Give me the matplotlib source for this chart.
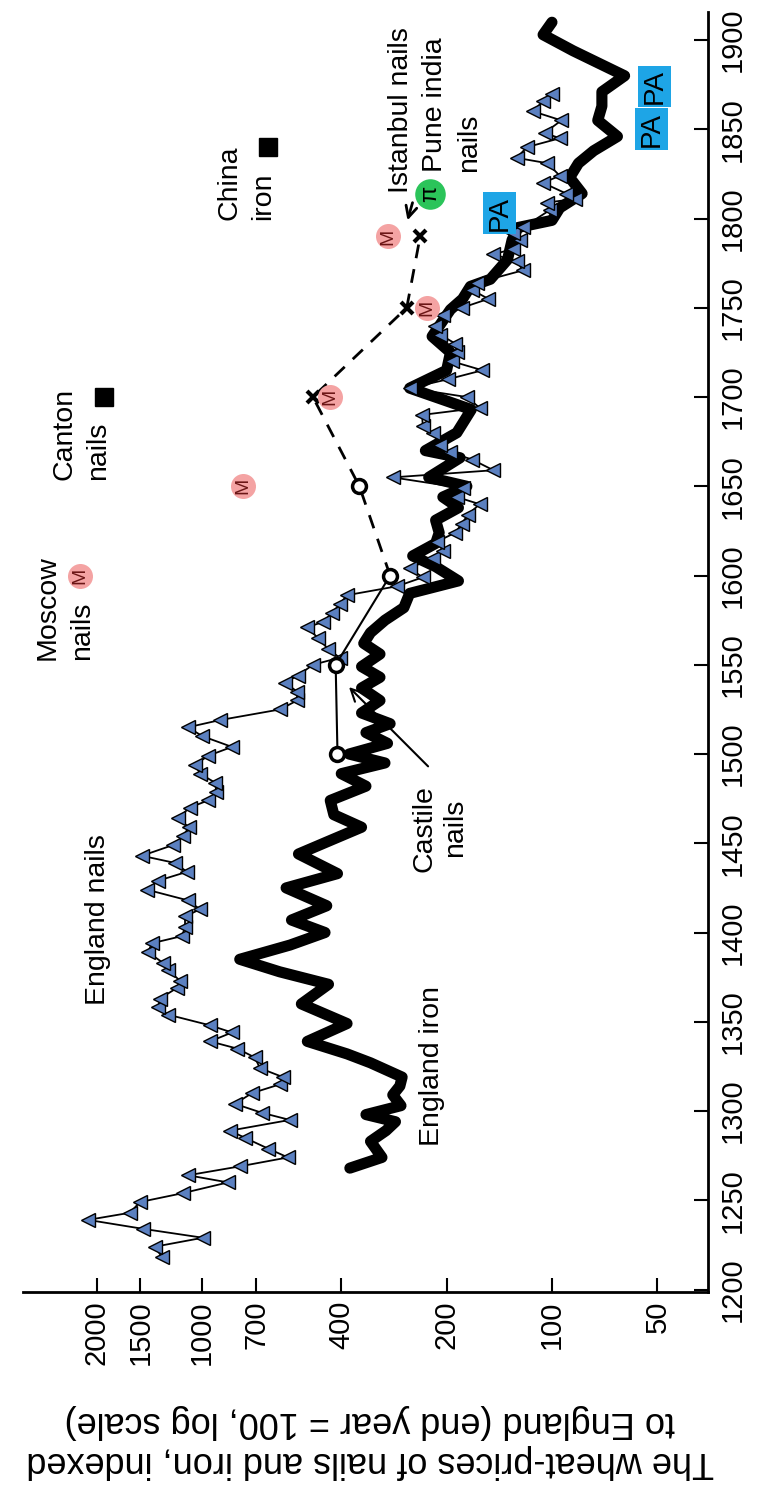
import matplotlib
matplotlib.use('Agg')
import matplotlib.pyplot as plt
from matplotlib.ticker import FixedLocator, NullLocator

plt.rcParams['font.family'] = ['Liberation Sans', 'DejaVu Sans']

# England nails, wheat-price index
nails_years = [1218, 1224, 1229, 1234, 1239, 1243, 1249, 1254, 1260, 1264, 1269, 1274,
               1279, 1285, 1289, 1295, 1299, 1304, 1310, 1315, 1319, 1324, 1330, 1335,
               1339, 1344, 1348, 1354, 1358, 1363, 1369, 1373, 1379, 1383, 1389, 1394,
               1398, 1403, 1409, 1413, 1418, 1424, 1429, 1434, 1439, 1443, 1449, 1454,
               1459, 1464, 1470, 1474, 1479, 1484, 1489, 1494, 1499, 1504, 1510, 1515,
               1519, 1525, 1530, 1535, 1540, 1544, 1550, 1554, 1559, 1565, 1571, 1574,
               1579, 1584, 1589, 1594, 1599, 1604, 1610, 1614, 1619, 1624, 1629, 1634,
               1640, 1644, 1649, 1655, 1659, 1665, 1669, 1673, 1680, 1684, 1690, 1694,
               1700, 1705, 1710, 1715, 1720, 1725, 1730, 1735, 1740, 1746, 1750, 1755,
               1760, 1764, 1771, 1776, 1780, 1783, 1788, 1792, 1795, 1805, 1809, 1811,
               1814, 1820, 1824, 1831, 1834, 1840, 1845, 1848, 1855, 1860, 1866, 1870]
nails_vals = [1300, 1362, 994, 1475, 2117, 1606, 1504, 1133, 843, 1096, 779, 568,
              648, 754, 832, 561, 674, 805, 720, 598, 587, 683, 706, 794,
              948, 821, 948, 1251, 1336, 1318, 1178, 1155, 1251, 1292, 1426, 1390,
              1141, 1118, 1118, 1013, 1096, 1436, 1336, 1104, 1195, 1485, 1210, 1133,
              1090, 1170, 1085, 961, 910, 918, 1013, 1045, 961, 821, 997, 1096,
              890, 598, 535, 535, 579, 532, 482, 404, 437, 466, 501, 451,
              425, 404, 385, 277, 234, 255, 219, 205, 213, 189, 181, 174,
              161, 187, 180, 285, 147, 169, 196, 209, 219, 234, 235, 161,
              175, 255, 198, 158, 193, 187, 189, 209, 216, 205, 181, 152,
              169, 164, 121, 126, 147, 129, 123, 129, 121, 101, 103, 86,
              91, 106, 95, 103, 126, 118, 95, 105, 94, 113, 106, 100]

# England iron
iron_years = [1268, 1274, 1283, 1289, 1294, 1298, 1303, 1309, 1314, 1319, 1327, 1332,
              1339, 1349, 1360, 1371, 1378, 1385, 1393, 1400, 1407, 1415, 1425, 1433,
              1444, 1452, 1459, 1466, 1474, 1482, 1489, 1495, 1500, 1506, 1512, 1517,
              1523, 1530, 1537, 1543, 1549, 1556, 1562, 1568, 1575, 1582, 1590, 1597,
              1605, 1611, 1618, 1624, 1631, 1638, 1644, 1650, 1655, 1666, 1670, 1680,
              1693, 1705, 1715, 1725, 1734, 1749, 1755, 1762, 1766, 1777, 1788, 1795,
              1799, 1806, 1814, 1823, 1831, 1838, 1846, 1855, 1863, 1871, 1880, 1894,
              1903, 1910]
iron_vals = [378, 306, 330, 298, 280, 340, 270, 285, 272, 268, 330, 385,
             500, 385, 520, 435, 600, 780, 560, 445, 555, 440, 575, 410,
             530, 425, 350, 420, 430, 340, 400, 300, 380, 295, 340, 290,
             350, 310, 350, 310, 350, 310, 345, 330, 300, 265, 255, 185,
             215, 250, 215, 210, 215, 185, 205, 175, 225, 183, 230, 187,
             170, 255, 200, 195, 220, 195, 180, 171, 150, 134, 130, 125,
             100, 95, 82, 89, 84, 76, 65, 74, 72, 72, 62, 87,
             106, 100]

castile_years = [1500, 1550, 1600, 1650]
castile_vals = [410, 415, 290, 355]
istanbul_years = [1700, 1750, 1790]
istanbul_vals = [482, 260, 238]
moscow_years = [1600, 1650, 1700, 1750, 1790]
moscow_vals = [2230, 764, 431, 228, 294]
canton_years = [1700]
canton_vals = [1905]
china_years = [1840]
china_vals = [648]
pune_years = [1814]
pune_vals = [223]
pa_years = [1803, 1850, 1874]
pa_vals = [141, 52, 51]

value_ticks = [2000, 1500, 1000, 700, 400, 200, 100, 50]
year_ticks = list(range(1200, 1901, 50))

fig = plt.figure(figsize=(7.57, 14.89), dpi=100)
ax = fig.add_axes([0.0304, 0.1323, 0.905, 0.8596])
ax.set_xscale('log')
ax.set_xlim(3246, 35.8)
ax.set_ylim(1198.6, 1915.7)

# thick iron line
ax.plot(iron_vals, iron_years, color='black', lw=8, solid_joinstyle='round',
        solid_capstyle='round', zorder=3)
# nails with triangles
ax.plot(nails_vals, nails_years, color='black', lw=1.3, marker='<', ms=10,
        mfc='#5b80c0', mec='black', mew=1.0, zorder=4)

# castile + istanbul
ax.plot(castile_vals[:3], castile_years[:3], color='black', lw=1.5, zorder=5)
ax.plot(castile_vals[2:] + istanbul_vals, castile_years[2:] + istanbul_years,
        color='black', lw=2, ls='--', dashes=(5, 4), zorder=5)
ax.plot(castile_vals, castile_years, 'o', ms=10, mfc='white', mec='black', mew=2.5, zorder=6)
ax.plot(istanbul_vals, istanbul_years, 'x', ms=9, mec='black', mew=3, zorder=6)

# moscow M circles
ax.plot(moscow_vals, moscow_years, 'o', ms=18, mfc='#f4a3a3', mec='none', zorder=7)
for v, y in zip(moscow_vals, moscow_years):
    ax.text(v, y, 'M', rotation=90, ha='center', va='center', fontsize=14,
            color='#6b1515', zorder=8)

ax.plot(canton_vals, canton_years, 's', ms=13, color='black', zorder=6)
ax.plot(china_vals, china_years, 's', ms=13, color='black', zorder=6)

ax.plot(pune_vals, pune_years, 'o', ms=22, mfc='#2bc45a', mec='none', zorder=7)
for v, y in zip(pune_vals, pune_years):
    ax.text(v, y, 'π', rotation=90, ha='center', va='center', fontsize=17,
            color='black', zorder=8)

for v, y in zip(pa_vals, pa_years):
    ax.text(v, y, 'PA', rotation=90, ha='center', va='center', fontsize=20, zorder=8,
            bbox=dict(boxstyle='square,pad=0.12', fc='#1ea5e6', ec='none'))

# labels (two-line ones written as separate lines, left aligned = bottom here)
fs = 20.5
ax.text(1983, 1407, 'England nails', rotation=90, ha='center', va='center', fontsize=fs)
ax.text(220, 1325, 'England iron', rotation=90, ha='center', va='center', fontsize=fs)
ax.text(209, 1458.5, 'Castile\nnails', rotation=90, ha='center', va='center',
        multialignment='center', fontsize=fs)
ax.text(2754, 1552.7, 'Moscow', rotation=90, ha='center', va='bottom', fontsize=fs)
ax.text(2203, 1552.7, 'nails', rotation=90, ha='center', va='bottom', fontsize=fs)
ax.text(2477, 1653.5, 'Canton', rotation=90, ha='center', va='bottom', fontsize=fs)
ax.text(1983, 1653.5, 'nails', rotation=90, ha='center', va='bottom', fontsize=fs)
ax.text(837, 1799.2, 'China', rotation=90, ha='center', va='bottom', fontsize=fs)
ax.text(669, 1799.2, 'iron', rotation=90, ha='center', va='bottom', fontsize=fs)
ax.text(270, 1814.3, 'Istanbul nails', rotation=90, ha='center', va='bottom', fontsize=fs)
ax.text(216, 1826, 'Pune india', rotation=90, ha='center', va='bottom', fontsize=fs)
ax.text(173, 1826, 'nails', rotation=90, ha='center', va='bottom', fontsize=fs)

ax.annotate('', xy=(385, 1538.6), xytext=(223, 1492),
            arrowprops=dict(arrowstyle='->', lw=1.5, color='black', mutation_scale=22))
ax.annotate('', xy=(260, 1797.5), xytext=(249, 1810.4),
            arrowprops=dict(arrowstyle='->', lw=2, color='black', mutation_scale=20))

# axes styling
for s in ['top', 'left']:
    ax.spines[s].set_visible(False)
for s in ['right', 'bottom']:
    ax.spines[s].set_linewidth(2)

ax.xaxis.set_major_locator(FixedLocator(value_ticks))
ax.xaxis.set_minor_locator(NullLocator())
ax.set_xticklabels([str(t) for t in value_ticks])
ax.yaxis.tick_right()
ax.set_yticks(year_ticks)
ax.tick_params(axis='x', direction='in', length=10, width=1.5, pad=6,
               labelsize=21, labelrotation=90)
ax.tick_params(axis='y', direction='in', length=10, width=1.5, pad=8,
               labelsize=21, labelrotation=90)
for lab in ax.get_yticklabels():
    lab.set_va('center')

fig.text(0.489, 0.032, 'The wheat-prices of nails and iron, indexed\n'
         'to England (end year = 100, log scale)', rotation=180,
         ha='center', va='center', fontsize=26)

fig.savefig('out.png', dpi=100)
